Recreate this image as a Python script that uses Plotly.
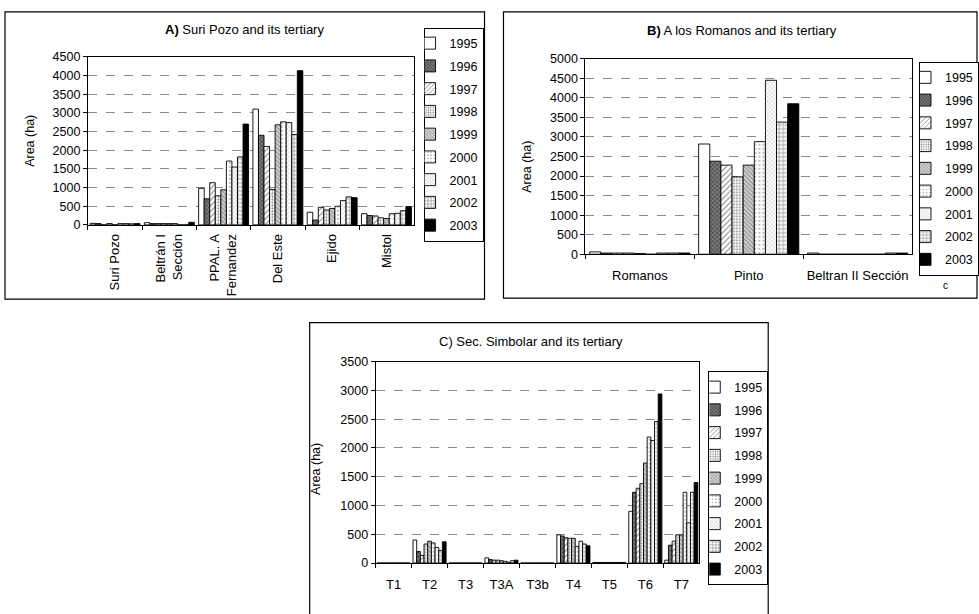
import plotly.graph_objects as go

# ---- data -------------------------------------------------------------
years = ["1995", "1996", "1997", "1998", "1999", "2000", "2001", "2002", "2003"]

# A) Suri Pozo and its tertiary  (area in ha, one value per year)
a_categories = ["Suri Pozo", "Beltrán I<br>Sección", "PPAL. A<br>Fernandez",
                "Del Este", "Ejido", "Mistol"]
a_suri_pozo = [40, 35, 0, 35, 0, 35, 35, 30, 35]
a_beltran_i = [60, 35, 35, 35, 35, 35, 0, 0, 70]
a_ppal_fernandez = [980, 700, 1130, 780, 940, 1710, 1550, 1820, 2700]
a_del_este = [3100, 2400, 2100, 950, 2680, 2760, 2740, 2420, 4130]
a_ejido = [340, 130, 470, 400, 440, 500, 650, 750, 730]
a_mistol = [300, 250, 240, 190, 170, 300, 310, 380, 490]

# B) A los Romanos and its tertiary
b_categories = ["Romanos", "Pinto", "Beltran II Sección"]
b_romanos = [60, 30, 30, 30, 20, 0, 30, 30, 30]
b_pinto = [2820, 2380, 2280, 1980, 2280, 2880, 4450, 3380, 3850]
b_beltran_ii = [30, 0, 0, 0, 0, 0, 0, 30, 30]

# C) Sec. Simbolar and its tertiary
c_categories = ["T1", "T2", "T3", "T3A", "T3b", "T4", "T5", "T6", "T7"]
c_t1 = [0, 0, 0, 0, 0, 0, 0, 0, 0]
c_t2 = [400, 200, 130, 330, 380, 350, 270, 220, 370]
c_t3 = [0, 0, 0, 0, 0, 0, 0, 0, 0]
c_t3a = [90, 60, 50, 50, 40, 30, 15, 40, 50]
c_t3b = [0, 0, 0, 0, 0, 0, 0, 0, 0]
c_t4 = [490, 470, 440, 430, 430, 290, 380, 330, 300]
c_t5 = [10, 10, 10, 10, 10, 10, 10, 10, 10]
c_t6 = [900, 1230, 1300, 1380, 1740, 2190, 2130, 2460, 2940]
c_t7 = [50, 310, 380, 490, 490, 1230, 700, 1230, 1400]

a_values = [a_suri_pozo, a_beltran_i, a_ppal_fernandez, a_del_este, a_ejido, a_mistol]
b_values = [b_romanos, b_pinto, b_beltran_ii]
c_values = [c_t1, c_t2, c_t3, c_t3a, c_t3b, c_t4, c_t5, c_t6, c_t7]

# ---- styling ----------------------------------------------------------
W, H = 979, 614
FONT = "Liberation Sans, Arial, sans-serif"


def fx(px):
    return px / W


def fy(px):
    return 1 - px / H


# monochrome fills, one per year
year_fills = [
    dict(bg="white", shape="", fg="black", size=6, solidity=0.2),
    dict(bg="#7a7a7a", shape="x", fg="black", size=3, solidity=0.4),
    dict(bg="white", shape="/", fg="black", size=4, solidity=0.25),
    dict(bg="white", shape=".", fg="black", size=3, solidity=0.3),
    dict(bg="#d0d0d0", shape="\\", fg="#333333", size=3, solidity=0.3),
    dict(bg="white", shape=".", fg="#555555", size=4, solidity=0.2),
    dict(bg="white", shape="x", fg="#666666", size=3, solidity=0.25),
    dict(bg="white", shape="+", fg="black", size=4, solidity=0.3),
    dict(bg="black", shape="", fg="black", size=6, solidity=0.2),
]

panels = [
    dict(key="A", cats=a_categories, vals=a_values, xa="x", ya="y", legend="legend",
         x0=88, x1=414, y0=51, y1=223, ymax=4500, angle=-90, xfont=13, standoff=3,
         title="<b>A)</b> Suri Pozo and its tertiary", title_xy=(245, 23),
         ylab_xy=(30, 137), leg_xy=(424, 21)),
    dict(key="B", cats=b_categories, vals=b_values, xa="x2", ya="y2", legend="legend2",
         x0=586, x1=913, y0=53, y1=253, ymax=5000, angle=0, xfont=13, standoff=9,
         title="<b>B)</b> A los Romanos and its tertiary", title_xy=(743, 24),
         ylab_xy=(528, 163), leg_xy=(920, 56)),
    dict(key="C", cats=c_categories, vals=c_values, xa="x3", ya="y3", legend="legend3",
         x0=376, x1=700, y0=363, y1=569, ymax=3500, angle=0, xfont=13, standoff=9,
         title="C) Sec. Simbolar and its tertiary", title_xy=(532, 342),
         ylab_xy=(317, 473), leg_xy=(709, 373)),
]

fig = go.Figure()
layout = dict(
    width=W, height=H,
    margin=dict(l=0, r=0, t=0, b=0),
    paper_bgcolor="white", plot_bgcolor="white",
    barmode="group", bargap=0.08, bargroupgap=0,
    font=dict(family=FONT, size=12, color="black"),
    annotations=[], shapes=[],
)

for p in panels:
    for i, year in enumerate(years):
        st = year_fills[i]
        fig.add_trace(go.Bar(
            x=p["cats"], y=[v[i] for v in p["vals"]], name=year,
            xaxis=p["xa"], yaxis=p["ya"], legend=p["legend"],
            legendgroup=p["key"] + year,
            marker=dict(color=st["bg"], line=dict(color="black", width=0.9),
                        pattern=dict(shape=st["shape"], fgcolor=st["fg"], bgcolor=st["bg"],
                                     size=st["size"], solidity=st["solidity"])),
        ))

    xname = "xaxis" + p["xa"][1:]
    yname = "yaxis" + p["ya"][1:]
    layout[xname] = dict(
        domain=[fx(p["x0"]), fx(p["x1"])], anchor=p["ya"], type="category",
        showline=True, linecolor="black", linewidth=1, mirror=True,
        ticks="outside", tickson="boundaries", ticklen=4, tickcolor="black",
        tickangle=p["angle"], tickfont=dict(size=p["xfont"], color="black"),
        ticklabelstandoff=p["standoff"], showgrid=False,
    )
    layout[yname] = dict(
        domain=[fy(p["y1"]), fy(p["y0"])], anchor=p["xa"], range=[0, p["ymax"]],
        dtick=500, tickformat="d", showline=True, linecolor="black", linewidth=1,
        mirror=True, ticks="outside", ticklen=4, tickcolor="black",
        tickfont=dict(size=12.5, color="black"), showgrid=True, gridcolor="#8a8a8a",
        griddash="dash", gridwidth=1, zeroline=False,
    )
    layout[p["legend"]] = dict(
        x=fx(p["leg_xy"][0]), y=fy(p["leg_xy"][1]), xanchor="left", yanchor="top",
        bordercolor="black", borderwidth=1, bgcolor="white",
        font=dict(size=12.5), itemwidth=30, tracegroupgap=3.5, indentation=-15,
    )
    layout["annotations"].append(dict(
        text=p["title"], x=fx(p["title_xy"][0]), y=fy(p["title_xy"][1]),
        xref="paper", yref="paper", showarrow=False, font=dict(size=13),
        xanchor="center", yanchor="middle"))
    layout["annotations"].append(dict(
        text="Area (ha)", x=fx(p["ylab_xy"][0]), y=fy(p["ylab_xy"][1]),
        xref="paper", yref="paper", showarrow=False, textangle=-90,
        font=dict(size=12.5), xanchor="center", yanchor="middle"))

layout["annotations"].append(dict(
    text="c", x=fx(946), y=fy(285), xref="paper", yref="paper", showarrow=False,
    font=dict(size=10), xanchor="center", yanchor="middle"))

# frames around the three panels
for (x0, y0, x1, y1) in [(5, 5, 485, 299), (504, 5, 978, 298), (310, 323, 769, 640)]:
    layout["shapes"].append(dict(
        type="rect", xref="paper", yref="paper",
        x0=fx(x0), x1=fx(x1), y0=fy(y1), y1=fy(y0),
        line=dict(color="black", width=1.2), fillcolor="rgba(0,0,0,0)"))

fig.update_layout(**layout)
fig.write_html("out.html")
